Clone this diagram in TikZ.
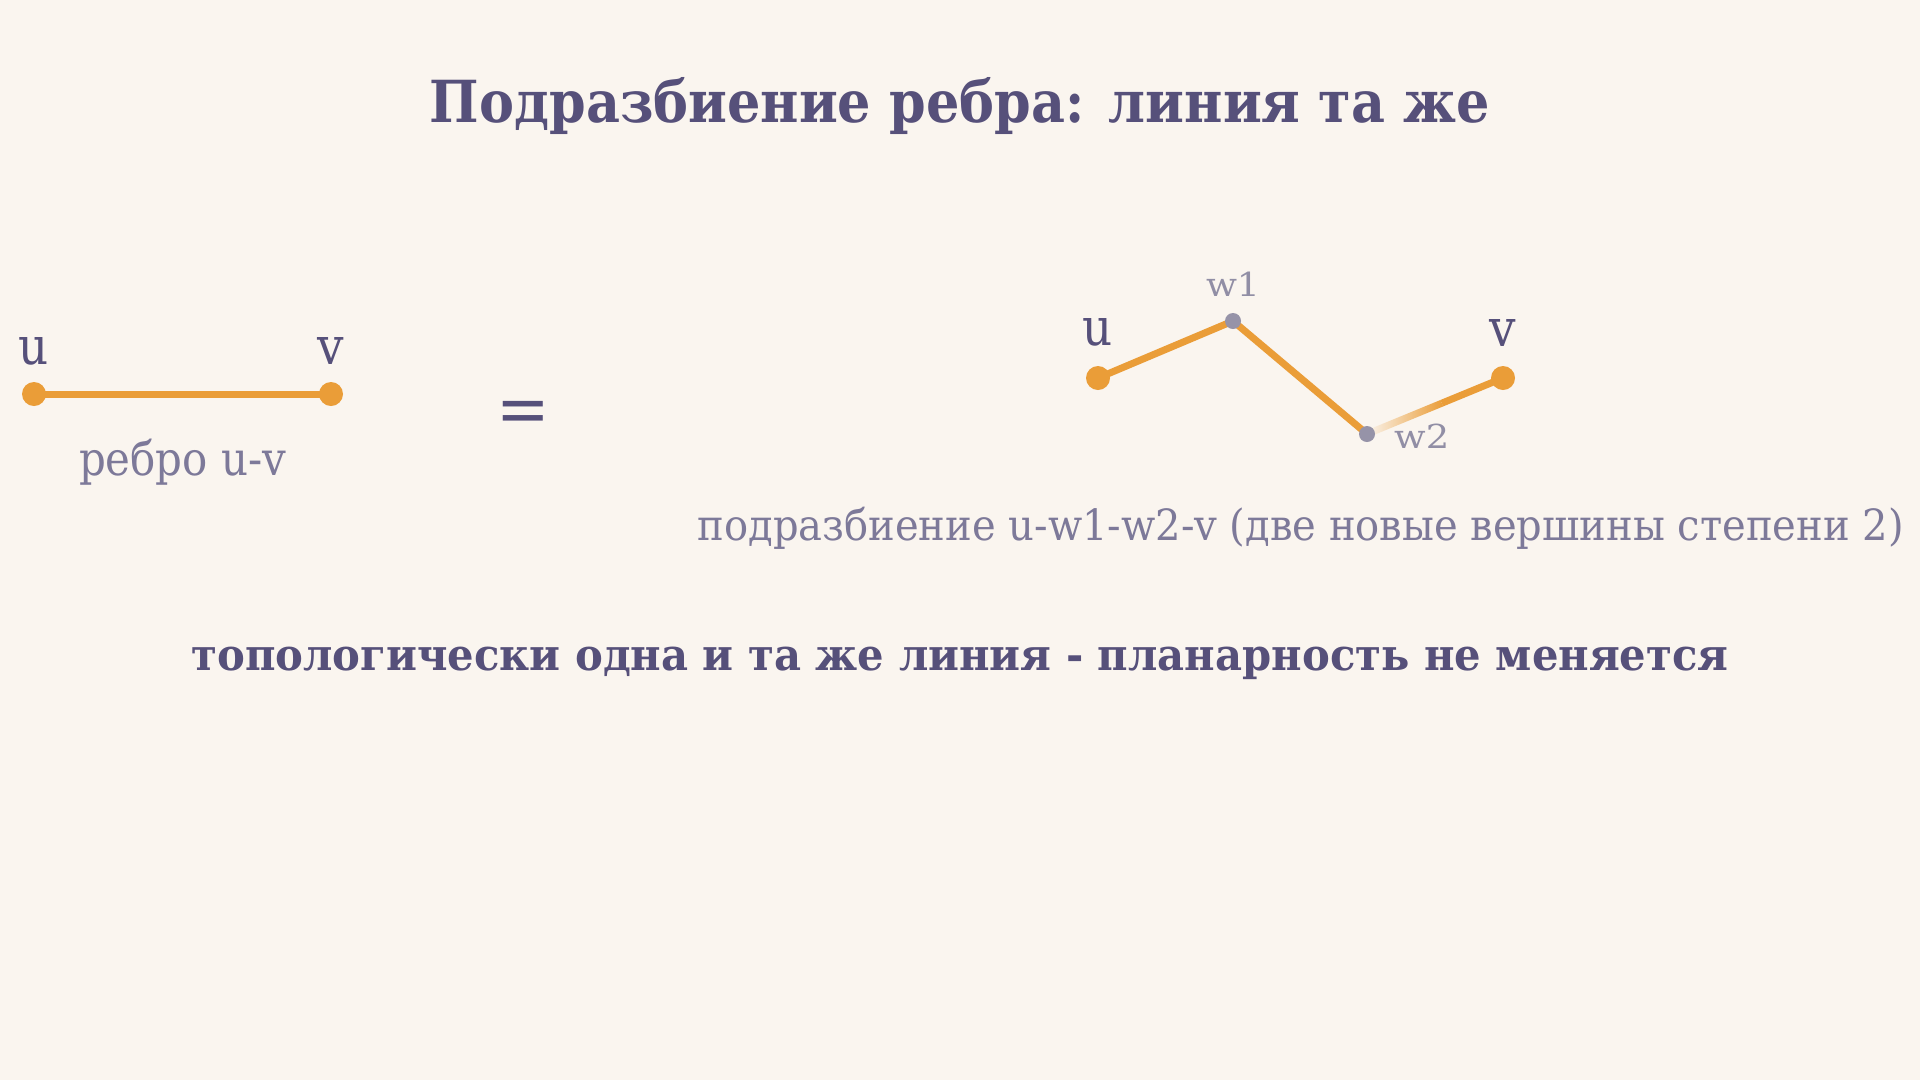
\documentclass[tikz,border=0pt]{standalone}
\usepackage{fontspec}
\setmainfont{DejaVu Serif Condensed}
\usetikzlibrary{calc}
\definecolor{bg}{HTML}{FAF5EF}
\definecolor{orange1}{HTML}{EA9D38}
\definecolor{purple1}{HTML}{56507A}
\definecolor{purple2}{HTML}{7D7999}
\definecolor{gray1}{HTML}{918EA5}
\definecolor{graydot}{HTML}{9693A8}
\newcommand{\fitw}[2]{\resizebox{#1}{\height}{#2}}
\tikzset{
  bigdot/.style={circle, fill=orange1, minimum size=24pt, inner sep=0pt},
  smalldot/.style={circle, fill=graydot, minimum size=16pt, inner sep=0pt},
  edgeline/.style={draw=orange1, line width=7pt},
  vlabel/.style={text=purple1, inner sep=0pt, anchor=base, font=\fontsize{52}{52}\selectfont},
  wlabel/.style={text=gray1, inner sep=0pt, font=\fontsize{33}{33}\selectfont},
  caption/.style={text=purple2, inner sep=0pt, anchor=base},
  titletext/.style={text=purple1, inner sep=0pt, anchor=base, font=\fontsize{58}{58}\selectfont\bfseries},
}
\begin{document}
\begin{tikzpicture}[x=1pt,y=-1pt]
\useasboundingbox[fill=bg] (0,0) rectangle (1920,1080);

% title
\node[titletext] (title) at (960,122) {\fitw{1060pt}{Подразбиение ребра: линия та же}};

% left edge
\coordinate (lu) at (34,394);
\coordinate (lv) at (331,394);
\draw[edgeline] (lu) -- (lv);
\node[bigdot] (ludot) at (lu) {};
\node[bigdot] (lvdot) at (lv) {};
\node[vlabel] (lulab) at (34,364) {u};
\node[vlabel] (lvlab) at (331,364) {v};
\node[caption, font=\fontsize{47}{47}\selectfont] (lcap) at (182.5,475) {\fitw{207pt}{ребро u-v}};

% equals
\node[text=purple1, inner sep=0pt, font=\fontsize{71}{71}\selectfont] (eq) at (523,417) {=};

% right path
\coordinate (ru) at (1098,378);
\coordinate (rw1) at (1233,321);
\coordinate (rw2) at (1367,434);
\coordinate (rv) at (1503,378);
\coordinate (pf) at ($(rw2)!0.55!(rv)$);
\draw[edgeline] (ru) -- (rw1) -- (rw2);
\path[left color=bg, right color=orange1]
  ($(rw2)!3.5pt!90:(rv)$) -- ($(rw2)!3.5pt!-90:(rv)$) --
  ($(pf)!3.5pt!90:(rw2)$) -- ($(pf)!3.5pt!-90:(rw2)$) -- cycle;
\draw[edgeline] (pf) -- (rv);
\node[bigdot] (rudot) at (ru) {};
\node[smalldot] (rw1dot) at (rw1) {};
\node[smalldot] (rw2dot) at (rw2) {};
\node[bigdot] (rvdot) at (rv) {};
\node[vlabel] (rulab) at (1098,345) {u};
\node[vlabel] (rvlab) at (1503,346) {v};
\node[wlabel, anchor=base] (w1lab) at (1233,296) {\fitw{54pt}{w1}};
\node[wlabel, anchor=base west] (w2lab) at (1394,448) {\fitw{55pt}{w2}};
\node[caption, font=\fontsize{43}{43}\selectfont] (rcap) at (1300.5,540) {\fitw{1206pt}{подразбиение u-w1-w2-v (две новые вершины степени 2)}};

% bottom
\node[text=purple1, inner sep=0pt, anchor=base, font=\fontsize{44}{44}\selectfont\bfseries] (bottom) at (960,670) {\fitw{1537pt}{топологически одна и та же линия - планарность не меняется}};
\end{tikzpicture}
\end{document}
